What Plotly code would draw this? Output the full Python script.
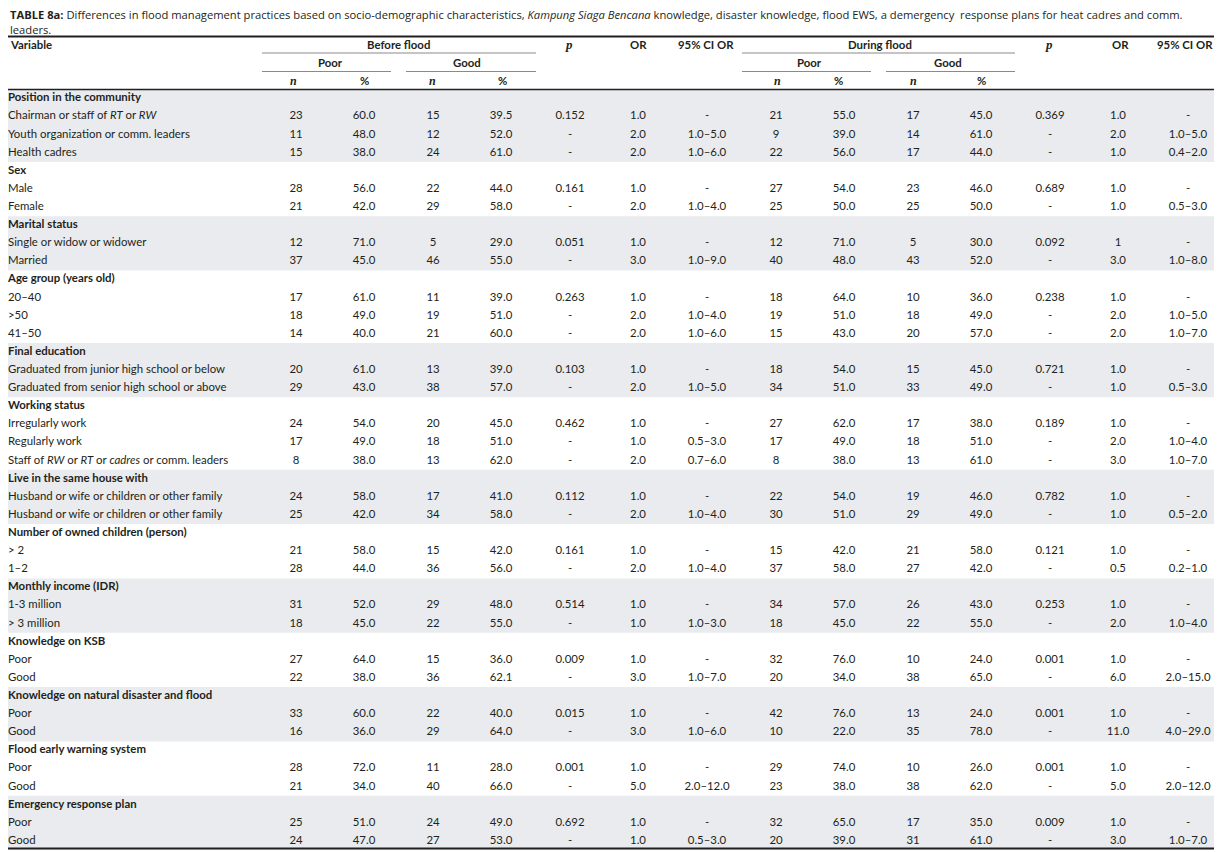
import plotly.graph_objects as go

# ---- table content ----
groups = [
    "Position in the community", "Sex", "Marital status", "Age group (years old)",
    "Final education", "Working status", "Live in the same house with",
    "Number of owned children (person)", "Monthly income (IDR)", "Knowledge on KSB",
    "Knowledge on natural disaster and flood", "Flood early warning system",
    "Emergency response plan",
]
items = [
    ["Chairman or staff of <i>RT</i> or <i>RW</i>", "Youth organization or comm. leaders", "Health cadres"],
    ["Male", "Female"],
    ["Single or widow or widower", "Married"],
    ["20–40", ">50", "41–50"],
    ["Graduated from junior high school or below", "Graduated from senior high school or above"],
    ["Irregularly work", "Regularly work", "Staff of <i>RW</i> or <i>RT</i> or <i>cadres</i> or comm. leaders"],
    ["Husband or wife or children or other family", "Husband or wife or children or other family"],
    ["> 2", "1–2"],
    ["1-3 million", "> 3 million"],
    ["Poor", "Good"],
    ["Poor", "Good"],
    ["Poor", "Good"],
    ["Poor", "Good"],
]

before_poor_n = [23, 11, 15, 28, 21, 12, 37, 17, 18, 14, 20, 29, 24, 17, 8, 24, 25, 21, 28, 31, 18, 27, 22, 33, 16, 28, 21, 25, 24]
before_poor_pct = ["60.0", "48.0", "38.0", "56.0", "42.0", "71.0", "45.0", "61.0", "49.0", "40.0", "61.0", "43.0", "54.0", "49.0", "38.0",
                   "58.0", "42.0", "58.0", "44.0", "52.0", "45.0", "64.0", "38.0", "60.0", "36.0", "72.0", "34.0", "51.0", "47.0"]
before_good_n = [15, 12, 24, 22, 29, 5, 46, 11, 19, 21, 13, 38, 20, 18, 13, 17, 34, 15, 36, 29, 22, 15, 36, 22, 29, 11, 40, 24, 27]
before_good_pct = ["39.5", "52.0", "61.0", "44.0", "58.0", "29.0", "55.0", "39.0", "51.0", "60.0", "39.0", "57.0", "45.0", "51.0", "62.0",
                   "41.0", "58.0", "42.0", "56.0", "48.0", "55.0", "36.0", "62.1", "40.0", "64.0", "28.0", "66.0", "49.0", "53.0"]
before_p = ["0.152", "-", "-", "0.161", "-", "0.051", "-", "0.263", "-", "-", "0.103", "-", "0.462", "-", "-",
            "0.112", "-", "0.161", "-", "0.514", "-", "0.009", "-", "0.015", "-", "0.001", "-", "0.692", "-"]
before_or = ["1.0", "2.0", "2.0", "1.0", "2.0", "1.0", "3.0", "1.0", "2.0", "2.0", "1.0", "2.0", "1.0", "1.0", "2.0",
             "1.0", "2.0", "1.0", "2.0", "1.0", "1.0", "1.0", "3.0", "1.0", "3.0", "1.0", "5.0", "1.0", "1.0"]
before_ci = ["-", "1.0–5.0", "1.0–6.0", "-", "1.0–4.0", "-", "1.0–9.0", "-", "1.0–4.0", "1.0–6.0", "-", "1.0–5.0", "-", "0.5–3.0", "0.7–6.0",
             "-", "1.0–4.0", "-", "1.0–4.0", "-", "1.0–3.0", "-", "1.0–7.0", "-", "1.0–6.0", "-", "2.0–12.0", "-", "0.5–3.0"]

during_poor_n = [21, 9, 22, 27, 25, 12, 40, 18, 19, 15, 18, 34, 27, 17, 8, 22, 30, 15, 37, 34, 18, 32, 20, 42, 10, 29, 23, 32, 20]
during_poor_pct = ["55.0", "39.0", "56.0", "54.0", "50.0", "71.0", "48.0", "64.0", "51.0", "43.0", "54.0", "51.0", "62.0", "49.0", "38.0",
                   "54.0", "51.0", "42.0", "58.0", "57.0", "45.0", "76.0", "34.0", "76.0", "22.0", "74.0", "38.0", "65.0", "39.0"]
during_good_n = [17, 14, 17, 23, 25, 5, 43, 10, 18, 20, 15, 33, 17, 18, 13, 19, 29, 21, 27, 26, 22, 10, 38, 13, 35, 10, 38, 17, 31]
during_good_pct = ["45.0", "61.0", "44.0", "46.0", "50.0", "30.0", "52.0", "36.0", "49.0", "57.0", "45.0", "49.0", "38.0", "51.0", "61.0",
                   "46.0", "49.0", "58.0", "42.0", "43.0", "55.0", "24.0", "65.0", "24.0", "78.0", "26.0", "62.0", "35.0", "61.0"]
during_p = ["0.369", "-", "-", "0.689", "-", "0.092", "-", "0.238", "-", "-", "0.721", "-", "0.189", "-", "-",
            "0.782", "-", "0.121", "-", "0.253", "-", "0.001", "-", "0.001", "-", "0.001", "-", "0.009", "-"]
during_or = ["1.0", "2.0", "1.0", "1.0", "1.0", "1", "3.0", "1.0", "2.0", "2.0", "1.0", "1.0", "1.0", "2.0", "3.0",
             "1.0", "1.0", "1.0", "0.5", "1.0", "2.0", "1.0", "6.0", "1.0", "11.0", "1.0", "5.0", "1.0", "3.0"]
during_ci = ["-", "1.0–5.0", "0.4–2.0", "-", "0.5–3.0", "-", "1.0–8.0", "-", "1.0–5.0", "1.0–7.0", "-", "0.5–3.0", "-", "1.0–4.0", "1.0–7.0",
             "-", "0.5–2.0", "-", "0.2–1.0", "-", "1.0–4.0", "-", "2.0–15.0", "-", "4.0–29.0", "-", "2.0–12.0", "-", "1.0–7.0"]

columns = [before_poor_n, before_poor_pct, before_good_n, before_good_pct, before_p, before_or, before_ci,
           during_poor_n, during_poor_pct, during_good_n, during_good_pct, during_p, during_or, during_ci]

caption = ("<b>TABLE 8a:</b> Differences in flood management practices based on socio-demographic "
           "characteristics, <i>Kampung Siaga Bencana</i> knowledge, disaster knowledge, flood EWS, a demergency  "
           "response plans for heat cadres and comm.<br>leaders.")

# ---- styling / layout constants ----
PAGE_W, PAGE_H = 1222, 852
BODY = 8                       # browser body margin around the plot div
TEXT = "#231f20"
SHADE = "#e9ebee"
RULE_GREY = "#8a8a8a"
FONT = "Lato"
FS = 11.4
col_x = [296, 364, 433, 501, 570, 638, 707, 776, 844, 913, 981, 1050, 1118, 1188]
LEFT, RIGHT = 8, 1218
ROW0_PX, PITCH = 98.5, 18.11   # page-pixel centre of first body row, row pitch


def row_of(px):
    return (px - ROW0_PX) / PITCH


# row index of every group header and every item line
group_rows, item_rows = [], []
r = 0
for g, its in zip(groups, items):
    group_rows.append(r)
    r += 1
    for _ in its:
        item_rows.append(r)
        r += 1
item_labels = [lab for its in items for lab in its]

fig = go.Figure()

# variable column
fig.add_trace(go.Scatter(
    x=[LEFT] * len(groups), y=group_rows, mode="text",
    text=[f"<b>{g}</b>" for g in groups], textposition="middle right",
    textfont=dict(family=FONT, size=FS, color=TEXT), hoverinfo="skip"))
fig.add_trace(go.Scatter(
    x=[LEFT] * len(item_labels), y=item_rows, mode="text",
    text=item_labels, textposition="middle right",
    textfont=dict(family=FONT, size=FS, color=TEXT), hoverinfo="skip"))

# numeric columns
for cx, vals in zip(col_x, columns):
    fig.add_trace(go.Scatter(
        x=[cx] * len(vals), y=item_rows, mode="text",
        text=[str(v) for v in vals], textposition="middle center",
        textfont=dict(family=FONT, size=FS, color=TEXT), hoverinfo="skip"))

shapes = []
# alternating group shading
for gi, (g0, its) in enumerate(zip(group_rows, items)):
    if gi % 2 == 0:
        shapes.append(dict(type="rect", xref="x", yref="y", x0=LEFT, x1=RIGHT,
                           y0=g0 - 0.5, y1=g0 + len(its) + 0.5,
                           fillcolor=SHADE, line=dict(width=0), layer="below"))


def hline(x0, x1, px, color, width):
    shapes.append(dict(type="line", xref="x", yref="y", x0=x0, x1=x1,
                       y0=row_of(px), y1=row_of(px), line=dict(color=color, width=width)))


hline(LEFT, RIGHT, 36.5, TEXT, 2)
for a, b in [(262, 536), (742, 1015)]:
    hline(a, b, 53, RULE_GREY, 1)
for a, b in [(262, 391), (406, 536), (742, 871), (886, 1015)]:
    hline(a, b, 71.5, RULE_GREY, 1)
hline(LEFT, RIGHT, 89.5, TEXT, 1.3)
hline(LEFT, RIGHT, 848.5, TEXT, 2)

ann = []


def label(x, px, text, anchor="center", family=FONT, size=FS):
    ann.append(dict(x=x, y=row_of(px), xref="x", yref="y", text=text, showarrow=False,
                    xanchor=anchor, yanchor="middle", align="left",
                    font=dict(family=family, size=size, color=TEXT)))


# caption: one two-line text block above the top rule
label(LEFT, 21.5, caption, anchor="left", family="Open Sans", size=11.2)

SERIF = "Liberation Serif"
row_h1, row_h2, row_h3 = 44.5, 62.5, 80.8
label(LEFT, row_h1, "<b>Variable</b>", anchor="left")
label(398, row_h1, "<b>Before flood</b>")
label(880, row_h1, "<b>During flood</b>")
for x in (569, 1049):
    label(x, row_h1, "<b><i>p</i></b>", family=SERIF, size=13)
for x in (638, 1120):
    label(x, row_h1, "<b>OR</b>")
for x in (706, 1185):
    label(x, row_h1, "<b>95% CI OR</b>")
for x, t in [(330, "Poor"), (467, "Good"), (809, "Poor"), (948, "Good")]:
    label(x, row_h2, f"<b>{t}</b>")
for x in (293, 432, 777, 913):
    label(x, row_h3, "<b><i>n</i></b>", family=SERIF, size=12)
for x in (364, 502, 838, 981):
    label(x, row_h3, "<b>%</b>")

# the plot div sits BODY px in from the page corner; axes are in page pixels
fig.update_layout(
    width=PAGE_W - BODY, height=PAGE_H - BODY,
    margin=dict(l=0, r=0, t=0, b=0),
    paper_bgcolor="white", plot_bgcolor="white",
    showlegend=False, hovermode=False,
    xaxis=dict(range=[BODY, PAGE_W], visible=False, fixedrange=True),
    yaxis=dict(range=[row_of(PAGE_H), row_of(BODY)], visible=False, fixedrange=True),
    shapes=shapes, annotations=ann,
)

fig.write_html("out.html")
